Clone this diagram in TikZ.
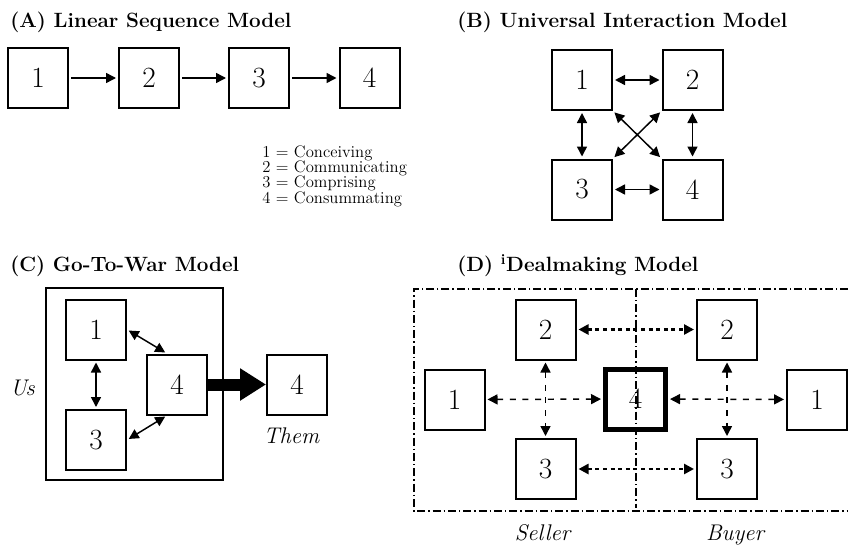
\documentclass[tikz,border=0pt]{standalone}
\usetikzlibrary{arrows.meta,positioning}
\setlength{\lineskiplimit}{-20pt}

\begin{document}
\begin{tikzpicture}[x=0.75pt,y=-0.75pt,
    num box/.style={draw,line width=1.5pt,minimum size=45pt,inner sep=0pt,font=\fontsize{22}{26}\selectfont},
    deal box/.style={num box,line width=3.75pt},
    title/.style={anchor=base west,inner sep=0pt,font=\fontsize{15.5}{18}\selectfont\bfseries},
    side label/.style={anchor=base,inner sep=0pt,font=\fontsize{17}{20}\selectfont\itshape},
    link/.style={line width=1.1pt,shorten >=1.5pt,shorten <=1.5pt,>={Triangle[length=7.5pt,width=7.5pt]}},
    soft link/.style={link,dash pattern=on 4.5pt off 5pt},
    dot link/.style={link,line width=2.2pt,dash pattern=on 3pt off 2.7pt},
    frame line/.style={line width=1.1pt,dash pattern=on 6pt off 2.25pt on 1pt off 2.25pt}]
\useasboundingbox (0,0) rectangle (848,546);

% (A)
\node[title] (ttlA) at (10,27) {(A) Linear Sequence Model};
\node[num box] (a1) at (38,78) {1};
\node[num box] (a2) at (149,78) {2};
\node[num box] (a3) at (259,78) {3};
\node[num box] (a4) at (369.5,78) {4};
\path[link,->]
    (a1) edge (a2)
    (a2) edge (a3)
    (a3) edge (a4)
;
\node[anchor=north west,inner sep=0pt,align=left,font=\fontsize{12.5}{11.5}\selectfont] (key) at (262,145)
    {1 = Conceiving\\2 = Communicating\\3 = Comprising\\4 = Consummating};

% (B)
\node[title] (ttlB) at (457,27) {(B) Universal Interaction Model};
\node[num box] (u1) at (582,80) {1};
\node[num box] (u2) at (692.5,80) {2};
\node[num box] (u3) at (582,189.5) {3};
\node[num box] (u4) at (692.5,189.5) {4};
\path[link,<->]
    (u1) edge (u2)
    (u3) edge (u4)
    (u1) edge (u3)
    (u2) edge (u4)
    (u1.south east) edge (u4.north west)
    (u2.south west) edge (u3.north east)
;

% (C)
\node[title] (ttlC) at (10,271) {(C) Go-To-War Model};
\draw[line width=1.5pt] (46,288) rectangle (223,480);
\node[num box] (w1) at (96,329.5) {1};
\node[num box] (w3) at (96,440) {3};
\node[num box] (w4) at (177,384.5) {4};
\node[num box] (them) at (297,384.5) {4};
\node[side label] (us) at (22.5,395) {Us};
\node[side label] (themlbl) at (291.5,443) {Them};
\path[link,<->]
    (w1) edge (w3)
    (w1.east) edge (w4.108)
    (w3.east) edge (w4.252)
;
\path (w4) edge[line width=9pt,-{Triangle[length=19.5pt,width=23pt]}] (them);

% (D)
\node[title] (ttlD) at (457,271) {(D) \textsuperscript{i}Dealmaking Model};
\draw[frame line] (848,289) -- (414,289) -- (414,511) -- (848,511);
\draw[frame line] (636,289) -- (636,508);
\node[num box] (sel1) at (454.5,399.5) {1};
\node[num box] (sel2) at (545.5,329.5) {2};
\node[num box] (sel3) at (545.5,469) {3};
\node[deal box] (deal) at (635.5,399) {4};
\node[num box] (buy1) at (817,399.5) {1};
\node[num box] (buy2) at (727,329.5) {2};
\node[num box] (buy3) at (727,469) {3};
\node[side label] (seller) at (542.5,540) {Seller};
\node[side label] (buyer) at (735,540) {Buyer};
\path[soft link,<->]
    (sel1) edge (deal)
    (deal) edge (buy1)
    (sel2) edge (sel3)
    (buy2) edge (buy3)
;
\path[dot link,<->]
    (sel2) edge (buy2)
    (sel3) edge (buy3)
;

\end{tikzpicture}
\end{document}
